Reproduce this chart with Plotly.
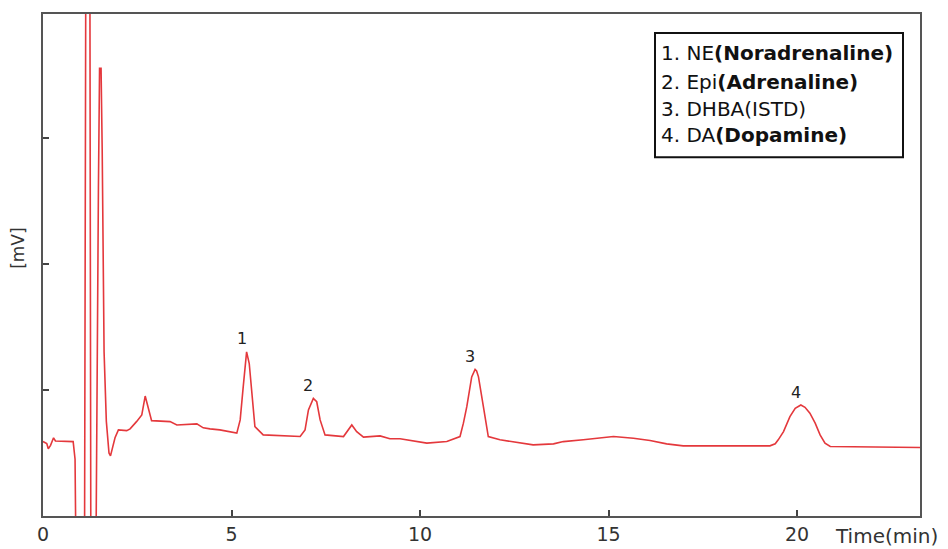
import plotly.graph_objects as go

# ---- data ----
time_min = [
    0.00, 0.10, 0.14, 0.20, 0.28, 0.33, 0.80, 0.85, 0.88, 1.10, 1.14, 1.24, 1.27,
    1.40, 1.47, 1.50, 1.54, 1.57, 1.62, 1.68, 1.75, 1.79, 1.91, 2.00, 2.22, 2.31,
    2.48, 2.62, 2.71, 2.79, 2.88, 3.37, 3.55, 4.08, 4.25, 4.43, 4.69, 5.14, 5.23,
    5.31, 5.40, 5.47, 5.54, 5.62, 5.84, 6.82, 6.95, 7.04, 7.17, 7.26, 7.35, 7.48,
    7.97, 8.19, 8.32, 8.50, 8.94, 9.20, 9.47, 10.18, 10.71, 11.06, 11.15, 11.24,
    11.37, 11.46, 11.50, 11.55, 11.68, 11.81, 12.12, 12.56, 13.00, 13.54, 13.80,
    14.33, 15.13, 15.66, 16.10, 16.54, 16.98, 19.28, 19.42, 19.50, 19.64, 19.81,
    19.95, 20.10, 20.21, 20.34, 20.48, 20.61, 20.74, 20.88, 23.26,
]
signal_mv = [
    0.590, 0.575, 0.533, 0.560, 0.620, 0.595, 0.590, 0.450, -0.500, -0.500, 5.000, 5.000, -0.500,
    -0.500, 2.600, 3.550, 3.550, 2.900, 1.300, 0.750, 0.500, 0.477, 0.620, 0.683, 0.677, 0.691,
    0.748, 0.801, 0.951, 0.867, 0.756, 0.748, 0.722, 0.730, 0.699, 0.691, 0.683, 0.657, 0.762,
    1.024, 1.301, 1.209, 0.972, 0.709, 0.643, 0.630, 0.683, 0.841, 0.933, 0.906, 0.762, 0.643,
    0.630, 0.722, 0.669, 0.625, 0.635, 0.612, 0.612, 0.578, 0.590, 0.630, 0.736, 0.867,
    1.103, 1.162, 1.150, 1.103, 0.867, 0.630, 0.604, 0.582, 0.564, 0.572, 0.590,
    0.604, 0.630, 0.617, 0.598, 0.572, 0.556, 0.556, 0.572, 0.604, 0.669, 0.788,
    0.854, 0.880, 0.862, 0.815, 0.736, 0.643, 0.578, 0.551, 0.543,
]

peak_times = [5.40, 7.17, 11.46, 20.10]
peak_labels = ["1", "2", "3", "4"]

legend_numbers = ["1. NE", "2. Epi", "3. DHBA(ISTD)", "4. DA"]
legend_names = ["(Noradrenaline)", "(Adrenaline)", "", "(Dopamine)"]

x_ticks = [0, 5, 10, 15, 20]
y_ticks = [1, 2, 3]
x_range = [0, 23.26]
y_range = [0, 3.98]

# ---- layout geometry (page pixels of the target) ----
W, H = 948, 549
OFFX, OFFY = 8, 8          # page offset of the plot div (body margin)
PLOT_L, PLOT_R, PLOT_T, PLOT_B = 43, 920, 12, 516.5

L = PLOT_L - OFFX
R = W - (PLOT_R - OFFX)
T = PLOT_T - OFFY
B = H - (PLOT_B - OFFY)
pw = PLOT_R - PLOT_L
ph = PLOT_B - PLOT_T


def px(xp):
    return (xp - PLOT_L) / pw


def py(yp):
    return (PLOT_B - yp) / ph


fig = go.Figure()
fig.add_trace(go.Scatter(
    x=time_min, y=signal_mv, mode="lines",
    line=dict(color="rgb(228,56,60)", width=1.6),
    showlegend=False, hoverinfo="skip",
))

annotations = []
for pt, lab in zip(peak_times, peak_labels):
    i = time_min.index(pt)
    annotations.append(dict(
        x=time_min[i], y=signal_mv[i], xref="x", yref="y", text=lab,
        showarrow=False, xshift=-5, yshift=13, yanchor="middle",
        font=dict(family="DejaVu Sans", size=16, color="#222"),
    ))

line_y = [51, 80, 107, 134]
for num, name, yy in zip(legend_numbers, legend_names, line_y):
    txt = num + (f"<b>{name}</b>" if name else "")
    annotations.append(dict(
        x=px(659), y=py(yy), xref="paper", yref="paper", text=txt,
        showarrow=False, xanchor="left", yanchor="middle",
        font=dict(family="DejaVu Sans", size=20, color="#111"),
    ))

annotations.append(dict(
    x=px(833), y=py(537), xref="paper", yref="paper", text="Time(min)",
    showarrow=False, xanchor="left", yanchor="middle",
    font=dict(family="DejaVu Sans", size=20, color="#333"),
))
annotations.append(dict(
    x=px(18), y=py(248), xref="paper", yref="paper", text="[mV]",
    showarrow=False, textangle=-90, xanchor="center", yanchor="middle",
    font=dict(family="DejaVu Sans", size=17, color="#333"),
))

fig.update_layout(
    width=W, height=H,
    margin=dict(l=L, r=R, t=T, b=B, pad=0),
    paper_bgcolor="white", plot_bgcolor="white",
    annotations=annotations,
    shapes=[dict(
        type="rect", xref="paper", yref="paper",
        x0=px(655), x1=px(903), y0=py(156), y1=py(31),
        line=dict(color="#111", width=2), fillcolor="white", layer="above",
    )],
    xaxis=dict(
        range=x_range, tickvals=x_ticks, ticks="inside", ticklen=6,
        tickcolor="#444", tickwidth=1.5, showgrid=False, zeroline=False,
        showline=True, linecolor="#555", linewidth=2, mirror=True,
        tickfont=dict(family="DejaVu Sans", size=19, color="#333"),
    ),
    yaxis=dict(
        range=y_range, tickvals=y_ticks, ticks="inside", ticklen=6,
        tickcolor="#444", tickwidth=1.5, showticklabels=False,
        showgrid=False, zeroline=False,
        showline=True, linecolor="#555", linewidth=2, mirror=True,
    ),
)

fig.write_html("out.html")
